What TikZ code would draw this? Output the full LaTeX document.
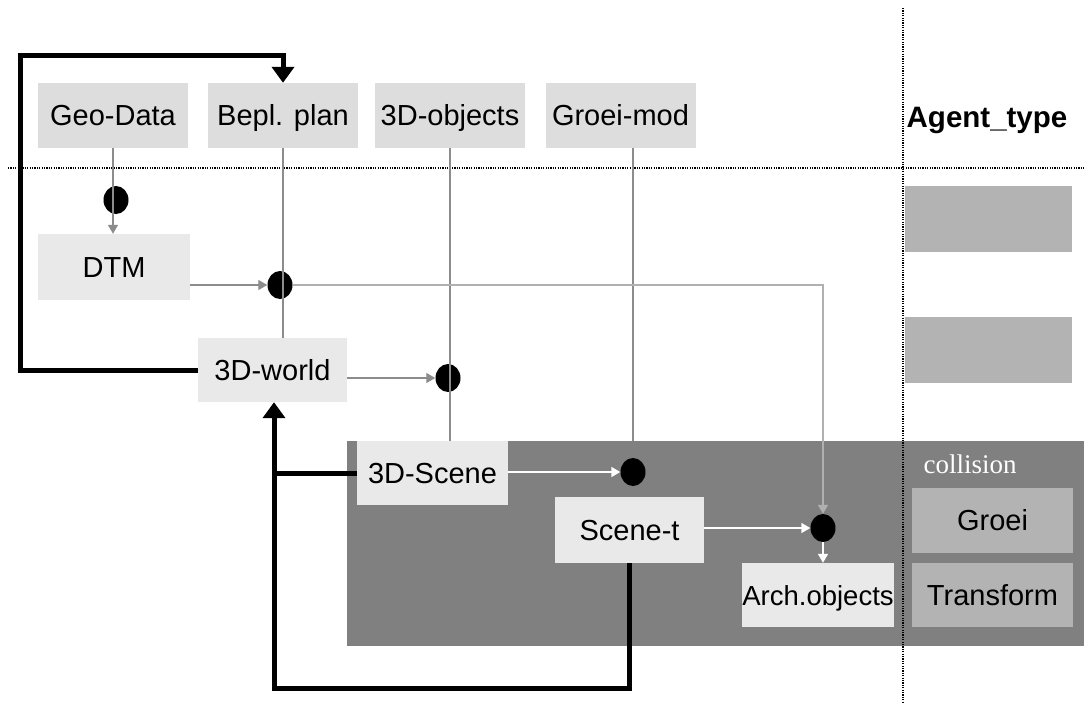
\documentclass[tikz,border=0pt]{standalone}
\usepackage{fontspec}
\setmainfont{Liberation Sans}
\newfontfamily\serifcol{Liberation Serif}
\usetikzlibrary{arrows.meta,shapes.geometric}
\definecolor{boxtop}{RGB}{221,221,221}
\definecolor{boxlow}{RGB}{233,233,233}
\definecolor{region}{RGB}{128,128,128}
\definecolor{agentc}{RGB}{179,179,179}
\definecolor{lineg}{RGB}{140,140,140}
\definecolor{linel}{RGB}{176,176,176}
\tikzset{
  box/.style={fill=#1, draw=none, inner sep=0pt, minimum width=150pt, minimum height=65pt, font=\fontsize{29}{32}\selectfont, text height=21pt, text depth=1pt},
  box/.default=boxlow,
  dot/.style={ellipse, fill=black, draw=none, inner sep=0pt, minimum width=25pt, minimum height=28pt},
  gline/.style={draw=lineg, line width=1.3pt},
  garrow/.style={gline, -{Triangle[length=9pt,width=10pt]}},
  larrow/.style={draw=linel, line width=1.3pt, -{Triangle[length=9pt,width=10pt]}},
  warrow/.style={draw=white, line width=1.5pt, -{Triangle[length=9pt,width=10pt]}},
  fb/.style={draw=black, line width=5pt},
  fbarrow/.style={fb, -{Triangle[length=16pt,width=22pt]}},
  sep/.style={draw=black, line width=1.3pt, dash pattern=on 1.2pt off 1.2pt},
}
\begin{document}
\begin{tikzpicture}[x=1pt,y=-1pt]
\useasboundingbox (0,0) rectangle (1084,702);
% dark region
\node[fill=region, inner sep=0pt, minimum width=737pt, minimum height=205pt, anchor=north west] (reg) at (347,441) {};
% separators
\coordinate (hs1) at (8,168);
\coordinate (hs2) at (1084,168);
\coordinate (vs1) at (903,8);
\coordinate (vs2) at (903,702);
\draw[sep] (hs1) -- (hs2);
\draw[sep] (vs1) -- (vs2);
% top boxes
\node[box=boxtop] (geo) at (113,115.5) {Geo-Data};
\node[box=boxtop] (bepl) at (283,115.5) {Bepl. plan};
\node[box=boxtop] (obj) at (450,115.5) {3D-objects};
\node[box=boxtop] (groei) at (620.5,115.5) {Groei-mod};
\node[font=\bfseries\fontsize{29.5}{32}\selectfont, inner sep=0pt, text height=21pt, text depth=1pt] (agent) at (987,117) {Agent\_type};
% agent boxes
\node[fill=agentc, inner sep=0pt, minimum width=167pt, minimum height=66pt] (ag1) at (988.5,219) {};
\node[fill=agentc, inner sep=0pt, minimum width=167pt, minimum height=66pt] (ag2) at (988.5,350) {};
% lower boxes
\node[box, minimum width=152pt, minimum height=66pt] (dtm) at (114,267) {DTM};
\node[box, minimum width=149pt, minimum height=64pt] (world) at (272.5,370) {3D-world};
\node[box, minimum width=151pt, minimum height=64pt] (scene) at (432.5,473) {3D-Scene};
\node[box, minimum width=149pt, minimum height=66pt] (scenet) at (629.5,530) {Scene-t};
\node[box, minimum width=150pt, minimum height=64pt, font=\fontsize{27.5}{30}\selectfont] (arch) at (818,595) {Arch.objects};
\node[font=\serifcol\fontsize{27}{30}\selectfont, text=white, inner sep=0pt] (coll) at (970,464) {collision};
\node[box=agentc, minimum width=161pt, minimum height=65pt] (groeib) at (992.5,520.5) {Groei};
\node[box=agentc, minimum width=161pt, minimum height=64pt] (trans) at (992.5,595) {Transform};
% dots
\node[dot] (d1) at (116,200) {};
\node[dot] (d2) at (280,285) {};
\node[dot] (d3) at (448,378) {};
\node[dot] (d4) at (633,472) {};
\node[dot] (d5) at (823,528) {};
% gray connectors
\draw[garrow] (geo.south) -- (dtm.north -| geo.south);
\draw[gline] (bepl.south) -- (bepl.south |- world.north);
\draw[gline] (obj.south) -- (obj.south |- scene.north);
\draw[gline] (d4 |- groei.south) -- (d4 |- reg.north);
\draw[garrow] (d2.west -| dtm.east) -- (d2.west);
\draw[larrow] (d2.east) -| (d5.north);
\draw[garrow] (d3.west -| world.east) -- (d3.west);
% white connectors
\draw[warrow] (d4.west -| scene.east) -- (d4.west);
\draw[warrow] (d5.west -| scenet.east) -- (d5.west);
\draw[warrow] (d5.south) -- (d5.south |- arch.north);
% feedback loops
\coordinate (c1) at (20,55);
\coordinate (c2) at (274,688);
\draw[fbarrow] (world.west) -- (world.west -| c1) -- (c1) -| (bepl.north);
\draw[fbarrow] (scenet.south) |- (c2) -- (c2 |- world.south);
\draw[fb] (scene.west) -- (scene.west -| c2);
\end{tikzpicture}
\end{document}
